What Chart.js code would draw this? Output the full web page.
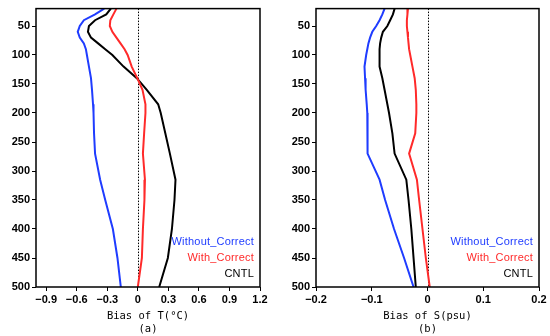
<!DOCTYPE html>
<html><head><meta charset="utf-8">
<script src="https://cdn.jsdelivr.net/npm/chart.js@4/dist/chart.umd.min.js"></script>
<style>
html,body{margin:0;padding:0;background:#fff;width:550px;height:336px;overflow:hidden;}
.wrap{position:absolute;top:0;width:275px;height:336px;}
.leg{position:absolute;font-family:"Liberation Sans",Arial,sans-serif;font-size:11px;text-align:right;line-height:16px;letter-spacing:0.2px;}
</style></head><body>
<div class="wrap" style="left:0"><canvas id="c1" width="275" height="336"></canvas></div>
<div class="wrap" style="left:275px"><canvas id="c2" width="275" height="336"></canvas></div>
<div class="leg" style="right:296px;top:233px"><div style="color:#1f3cff">Without_Correct</div><div style="color:#ff2a2a">With_Correct</div><div style="color:#000">CNTL</div></div>
<div class="leg" style="right:17px;top:233px"><div style="color:#1f3cff">Without_Correct</div><div style="color:#ff2a2a">With_Correct</div><div style="color:#000">CNTL</div></div>
<script>
const depth = [20,30,40,50,60,70,80,90,100,120,140,160,185,200,235,270,315,350,400,450,500];
const seriesNames = ['Without_Correct','With_Correct','CNTL'];
// Panel (a) temperature bias
const tWithout = [-0.33,-0.42,-0.53,-0.57,-0.59,-0.57,-0.53,-0.51,-0.50,-0.48,-0.46,-0.45,-0.44,-0.435,-0.43,-0.42,-0.37,-0.32,-0.245,-0.20,-0.167];
const tWith    = [-0.21,-0.24,-0.27,-0.275,-0.25,-0.21,-0.17,-0.13,-0.10,-0.06,-0.005,0.046,0.075,0.075,0.062,0.05,0.07,0.065,0.05,0.04,0.0];
const tCntl    = [-0.265,-0.31,-0.42,-0.48,-0.49,-0.46,-0.39,-0.32,-0.25,-0.14,-0.01,0.088,0.20,0.225,0.27,0.315,0.37,0.36,0.335,0.295,0.21];
// Panel (b) salinity bias
const sWithout = [-0.077,-0.081,-0.086,-0.092,-0.099,-0.103,-0.106,-0.108,-0.110,-0.113,-0.112,-0.111,-0.109,-0.108,-0.108,-0.107,-0.086,-0.076,-0.060,-0.042,-0.025];
const sWith    = [-0.035,-0.036,-0.037,-0.037,-0.036,-0.035,-0.034,-0.033,-0.031,-0.027,-0.023,-0.021,-0.020,-0.020,-0.022,-0.033,-0.019,-0.015,-0.009,-0.003,0.004];
const sCntl    = [-0.059,-0.062,-0.067,-0.072,-0.080,-0.083,-0.085,-0.086,-0.086,-0.086,-0.081,-0.077,-0.072,-0.069,-0.063,-0.059,-0.038,-0.034,-0.029,-0.025,-0.021];
const yTicks = [50,100,150,200,250,300,350,400,450,500];
const xTicksA = [-0.9,-0.6,-0.3,0,0.3,0.6,0.9,1.2];
const xTicksB = [-0.2,-0.1,0,0.1,0.2];
const colors = ['#1f3cff','#ff2a2a','#000000'];

const fmt = v => { if (Math.abs(v) < 1e-9) return '0'; const s = (Math.round(v*10)/10).toString(); return s.replace('-','\u2212'); };
const mk = (vals, i) => ({label: seriesNames[i], data: vals.map((v,k)=>({x:v,y:depth[k]})), borderColor: colors[i], borderWidth: 2, pointRadius: 0, showLine: true, fill: false, tension: 0});

const framePlugin = {
  id: 'frame',
  beforeDatasetsDraw(chart) {
    const {ctx, chartArea: a, scales} = chart;
    const x0 = scales.x.getPixelForValue(0);
    ctx.save();
    ctx.strokeStyle = '#000'; ctx.lineWidth = 1; ctx.setLineDash([1.5,1.5]);
    ctx.beginPath(); ctx.moveTo(Math.round(x0)+0.5, a.top); ctx.lineTo(Math.round(x0)+0.5, a.bottom); ctx.stroke();
    ctx.restore();
  },
  afterDatasetsDraw(chart) {
    const {ctx, chartArea: a} = chart;
    ctx.save(); ctx.strokeStyle = '#000'; ctx.lineWidth = 1.5;
    ctx.strokeRect(a.left, a.top, a.right - a.left, a.bottom - a.top);
    ctx.restore();
  }
};

function build(id, sets, xmin, xmax, xticks, title, yw, padR) {
  new Chart(document.getElementById(id), {
    type: 'scatter',
    data: {datasets: sets},
    options: {
      responsive: false, animation: false, clip: true,
      layout: {padding: {left: 0, right: padR, top: 8, bottom: 0}},
      plugins: {legend: {display: false}, tooltip: {enabled: false}},
      scales: {
        x: {type: 'linear', min: xmin, max: xmax,
            afterBuildTicks: s => { s.ticks = xticks.map(v => ({value: v})); },
            afterFit: s => { s.height = 49; },
            grid: {display: true, drawOnChartArea: false, drawTicks: true, tickLength: 4, color: '#000'},
            border: {display: false},
            ticks: {color: '#000', font: {family: 'Liberation Sans', size: 11, weight: 'bold'}, padding: 2, maxRotation: 0, callback: v => fmt(v)},
            title: {display: true, text: title, color: '#000', font: {family: 'DejaVu Sans Mono', size: 10.5, lineHeight: 1.25}, padding: {top: -2, bottom: 0}}
        },
        y: {type: 'linear', reverse: true, min: 20, max: 500,
            afterBuildTicks: s => { s.ticks = yTicks.map(v => ({value: v})); },
            afterFit: s => { s.width = yw; },
            grid: {display: true, drawOnChartArea: false, drawTicks: true, tickLength: 4, color: '#000'},
            border: {display: false},
            ticks: {color: '#000', font: {family: 'Liberation Sans', size: 11, weight: 'bold'}, padding: 2}
        }
      }
    },
    plugins: [framePlugin]
  });
}
build('c1', [mk(tWithout,0), mk(tWith,1), mk(tCntl,2)], -1.0, 1.2, xTicksA, ['Bias of T(\u00B0C)','(a)'], 36, 15);
build('c2', [mk(sWithout,0), mk(sWith,1), mk(sCntl,2)], -0.2, 0.2, xTicksB, ['Bias of S(psu)','(b)'], 41, 11);
</script>
</body></html>
